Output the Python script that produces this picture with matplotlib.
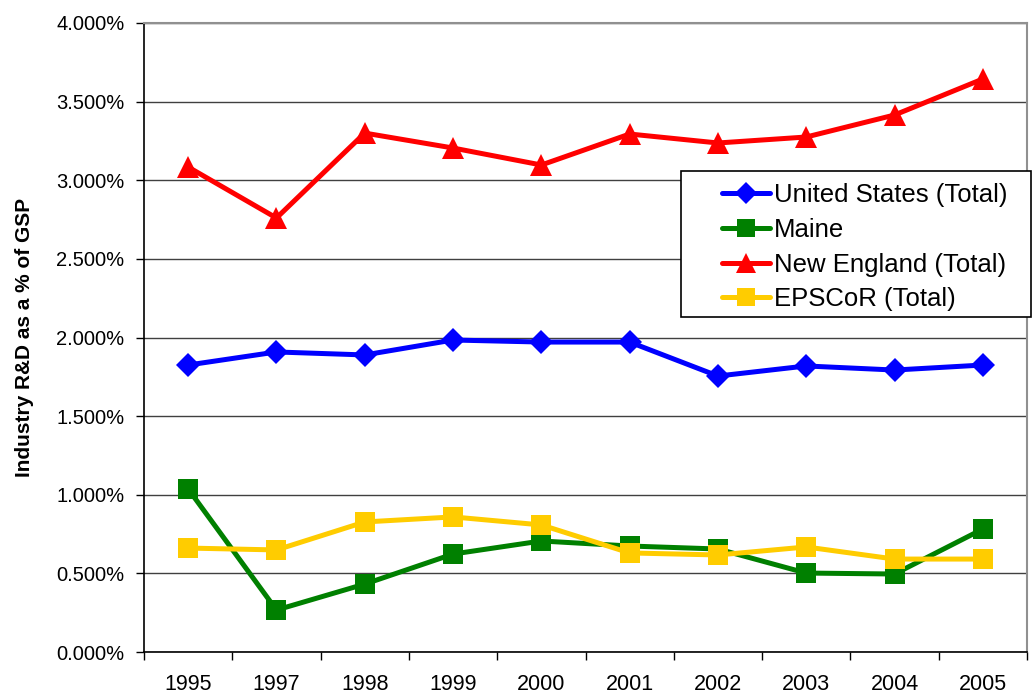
import numpy as np
import matplotlib
matplotlib.use("Agg")
import matplotlib.pyplot as plt
from matplotlib.patches import Rectangle
from matplotlib.ticker import FuncFormatter, FixedLocator

plt.rcParams['font.family'] = ['Liberation Sans', 'DejaVu Sans']

# --- Data (percent of GSP) ---
years = ["1995", "1997", "1998", "1999", "2000", "2001", "2002", "2003", "2004", "2005"]
united_states = [1.825, 1.908, 1.889, 1.984, 1.971, 1.971, 1.755, 1.819, 1.793, 1.825]
maine = [1.037, 0.267, 0.432, 0.623, 0.706, 0.674, 0.655, 0.502, 0.496, 0.782]
new_england = [3.084, 2.760, 3.300, 3.205, 3.097, 3.294, 3.237, 3.275, 3.415, 3.644]
epscor = [0.661, 0.649, 0.827, 0.859, 0.808, 0.630, 0.617, 0.668, 0.591, 0.591]

series = [
    ("United States (Total)", united_states, "#0000FF", "D", 12.5),
    ("Maine", maine, "#008000", "s", 14),
    ("New England (Total)", new_england, "#FF0000", "^", 16),
    ("EPSCoR (Total)", epscor, "#FFCC00", "s", 14),
]

W, H = 1032, 694
fig = plt.figure(figsize=(W / 100, H / 100), dpi=100)
ax = fig.add_axes([144 / W, 1 - 652 / H, (1027 - 144) / W, (652 - 23) / H])

x = np.arange(len(years))
for label, vals, color, marker, ms in series:
    ax.plot(x, vals, color=color, lw=3.6, marker=marker, ms=ms,
            markeredgewidth=0, label=label, clip_on=False,
            solid_capstyle="round", solid_joinstyle="round")

ax.set_xlim(-0.5, len(years) - 0.5)
ax.set_ylim(0, 4.0)
ax.set_yticks(np.arange(0, 4.01, 0.5))
ax.yaxis.set_major_formatter(FuncFormatter(lambda v, p: f"{v:.3f}%"))
ax.yaxis.grid(True, color="#404040", lw=1.0)
ax.set_axisbelow(True)

ax.set_xticks(x)
ax.set_xticklabels(years)
ax.xaxis.set_minor_locator(FixedLocator(np.arange(-0.5, len(years), 1.0)))
ax.tick_params(axis="x", which="major", length=0, pad=15.5, labelsize=15.5)
ax.tick_params(axis="x", which="minor", length=6, width=1, color="black", direction="out")
ax.tick_params(axis="y", length=6, width=1, pad=8, labelsize=14.5)

for side in ("left", "bottom"):
    ax.spines[side].set_color("black")
    ax.spines[side].set_linewidth(1.2)
for side in ("top", "right"):
    ax.spines[side].set_color("#909090")
    ax.spines[side].set_linewidth(1.5)

ax.set_ylabel("Industry R&D as a % of GSP", fontsize=15, fontweight="bold", labelpad=16)

# legend box
box = Rectangle((681 / W, 1 - 317 / H), (1031 - 681) / W, (317 - 171) / H,
                transform=fig.transFigure, facecolor="white", edgecolor="black",
                lw=1.2, zorder=3)
fig.patches.append(box)
handles, labels = ax.get_legend_handles_labels()
leg = fig.legend(handles, labels, loc="upper left", bbox_to_anchor=(704 / W, 1 - 165 / H),
                 frameon=False, fontsize=18.5, numpoints=1, markerscale=0.9,
                 handlelength=1.87, handletextpad=0.15, labelspacing=0.42, borderpad=0.2)
leg.set_zorder(4)

fig.savefig("out.png", dpi=100)
